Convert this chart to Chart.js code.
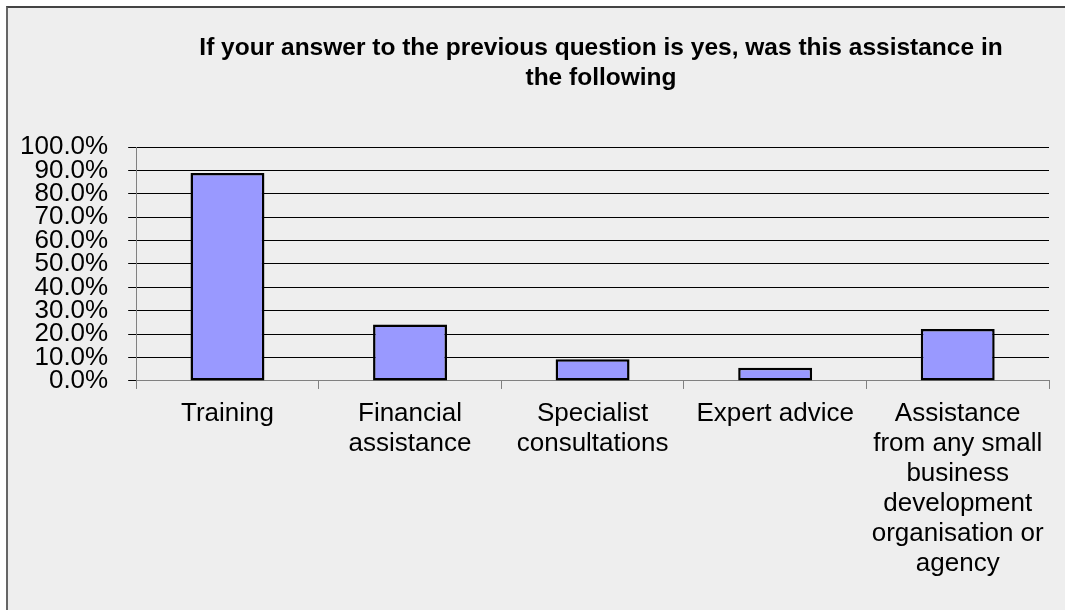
<!DOCTYPE html>
<html>
<head>
<meta charset="utf-8">
<script src="https://cdn.jsdelivr.net/npm/chart.js@4/dist/chart.umd.min.js"></script>
<style>
  html, body { margin: 0; padding: 0; background: #fff; overflow: hidden; }
  #frame {
    position: absolute; left: 6px; top: 6px; width: 1100px; height: 700px;
    background: #eeeeee; border-left: 2px solid #666; border-top: 2px solid #444;
  }
  #chart { position: absolute; left: 0; top: 0; }
</style>
</head>
<body>
<div id="frame"></div>
<canvas id="chart" width="1065" height="610"></canvas>
<script>
// chart data
var titleLines = [
  "If your answer to the previous question is yes, was this assistance in",
  "the following"
];
var categories = [
  "Training",
  ["Financial", "assistance"],
  ["Specialist", "consultations"],
  "Expert advice",
  ["Assistance", "from any small", "business", "development", "organisation or", "agency"]
];
var percentages = [88.9, 24.1, 9.3, 5.6, 22.2];
var yMin = 0, yMax = 100, yStep = 10;

var FONT = '"Liberation Sans", Arial, sans-serif';

// title is centred a little to the right of the canvas centre, like the original
var titlePlugin = {
  id: "chartTitle",
  afterDraw: function (chart) {
    var ctx = chart.ctx;
    ctx.save();
    ctx.font = "bold 24.5px " + FONT;
    ctx.fillStyle = "#000";
    ctx.textAlign = "center";
    ctx.textBaseline = "middle";
    titleLines.forEach(function (t, i) {
      ctx.fillText(t, 601, 48 + i * 30);
    });
    ctx.restore();
  }
};

var ctx = document.getElementById("chart").getContext("2d");
var myChart = new Chart(ctx, {
  type: "bar",
  data: {
    labels: categories,
    datasets: [
      {
        data: percentages,
        backgroundColor: "#9999ff",
        borderColor: "#000",
        borderWidth: 2.5,
        borderSkipped: false,
        categoryPercentage: 1,
        barPercentage: 0.405,
      },
    ],
  },
  options: {
    responsive: false,
    animation: false,
    layout: {
      padding: { left: 0, right: 16, top: 147, bottom: 21 },
    },
    plugins: {
      legend: { display: false },
      title: { display: false },
      tooltip: { enabled: false },
    },
    scales: {
      x: {
        offset: true,
        grid: {
          offset: true,
          drawOnChartArea: false,
          drawTicks: true,
          tickLength: 8,
          color: "#808080",
        },
        border: { color: "#808080", width: 1 },
        ticks: {
          autoSkip: false,
          maxRotation: 0,
          minRotation: 0,
          padding: 10,
          color: "#000",
          font: { family: FONT, size: 26, lineHeight: 1.154 },
        },
      },
      y: {
        min: yMin,
        max: yMax,
        grid: {
          color: "#000",
          lineWidth: 1,
          tickLength: 8,
        },
        border: { color: "#808080", width: 1 },
        ticks: {
          stepSize: yStep,
          autoSkip: false,
          padding: 20,
          color: "#000",
          font: { family: FONT, size: 26 },
          callback: function (v) {
            return v.toFixed(1) + "%";
          },
        },
      },
    },
  },
  plugins: [titlePlugin],
});
</script>
</body>
</html>
